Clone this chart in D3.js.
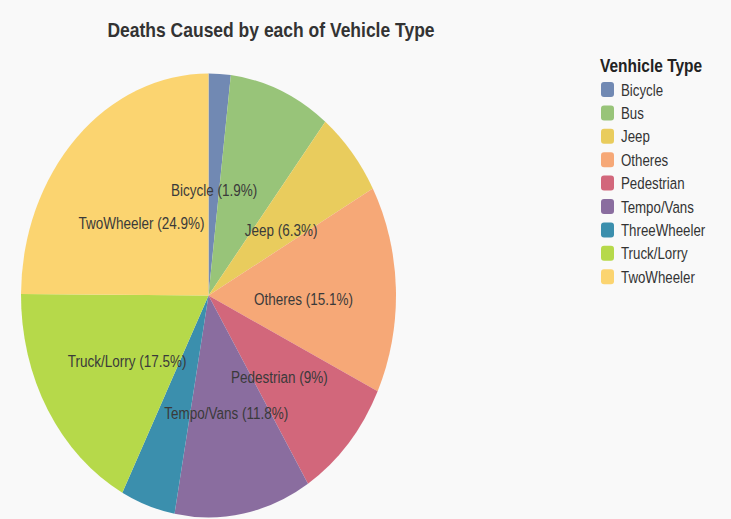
<!DOCTYPE html>
<html>
<head>
<meta charset="utf-8">
<script src="https://cdn.jsdelivr.net/npm/d3@7"></script>
<style>
  body { margin: 0; background: #f9f9f9; }
  text { font-family: "Liberation Sans", Arial, sans-serif; }
</style>
</head>
<body>
<div id="chart"></div>
<script>
// vehicle types, in the order they go round the pie
var categories = ["Bicycle", "Bus", "Jeep", "Otheres", "Pedestrian", "Tempo/Vans", "ThreeWheeler", "Truck/Lorry", "TwoWheeler"];
// share of deaths (%)
var shares = [1.9, 8.8, 6.3, 15.1, 9, 11.8, 4.7, 17.5, 24.9];
// slice colours
var colours = ["#7189b3", "#98c479", "#e9cc5d", "#f6a877", "#d2677b", "#8a6d9f", "#3b8fad", "#b6d94a", "#fbd470"];
// slices that get a text label
var labelled = ["Bicycle", "Jeep", "Otheres", "Pedestrian", "Tempo/Vans", "Truck/Lorry", "TwoWheeler"];

var width = 731;
var height = 519;

// the picture is stretched a bit vertically
var stretch = 1.184;

var svg = d3.select("#chart")
  .append("svg")
  .attr("width", width)
  .attr("height", height);

svg.append("rect")
  .attr("width", width)
  .attr("height", height)
  .style("fill", "#f9f9f9");

var data = categories.map(function(c, i) {
  return { name: c, value: shares[i] };
});

var color = d3.scaleOrdinal()
  .domain(categories)
  .range(colours);

var radius = 187.5;
var cx = 208.5;
var cy = 295.5;

var pie = d3.pie()
  .sort(null)
  .value(function(d) { return d.value; });

var arcs = pie(data);

var arc = d3.arc()
  .innerRadius(0)
  .outerRadius(radius);

var labelArc = d3.arc()
  .innerRadius(95)
  .outerRadius(95);

var pieGroup = svg.append("g")
  .attr("transform", "translate(" + cx + "," + cy + ") scale(1," + stretch + ")");

pieGroup.selectAll("path")
  .data(arcs)
  .enter()
  .append("path")
  .attr("d", arc)
  .style("fill", function(d) { return color(d.data.name); });

// slice labels
svg.selectAll(".slicelabel")
  .data(arcs.filter(function(d) { return labelled.indexOf(d.data.name) >= 0; }))
  .enter()
  .append("text")
  .attr("class", "slicelabel")
  .attr("text-anchor", "middle")
  .attr("transform", function(d) {
    var c = labelArc.centroid(d);
    return "translate(" + (cx + c[0]) + "," + (cy + c[1] * stretch + 13) + ") scale(1," + stretch + ")";
  })
  .style("font-size", "13.5px")
  .style("fill", "#3a3a3a")
  .text(function(d) { return d.data.name + " (" + d.data.value + "%)"; });

// title
svg.append("text")
  .attr("text-anchor", "middle")
  .attr("transform", "translate(271,37) scale(1," + stretch + ")")
  .style("font-size", "17.5px")
  .style("font-weight", "bold")
  .style("fill", "#333")
  .text("Deaths Caused by each of Vehicle Type");

// legend
var legend = svg.append("g")
  .attr("transform", "translate(600,0)");

legend.append("text")
  .attr("transform", "translate(0,72) scale(1," + stretch + ")")
  .style("font-size", "15.5px")
  .style("font-weight", "bold")
  .style("fill", "#222")
  .text("Venhicle Type");

var step = 23.4;

legend.selectAll(".swatch")
  .data(categories)
  .enter()
  .append("rect")
  .attr("class", "swatch")
  .attr("x", 1)
  .attr("y", function(d, i) { return 82 + i * step; })
  .attr("width", 13)
  .attr("height", 15)
  .attr("rx", 3)
  .style("fill", function(d) { return color(d); });

legend.selectAll(".legtext")
  .data(categories)
  .enter()
  .append("text")
  .attr("class", "legtext")
  .attr("transform", function(d, i) {
    return "translate(21," + (95.5 + i * step) + ") scale(1," + stretch + ")";
  })
  .style("font-size", "13.3px")
  .style("fill", "#333")
  .text(function(d) { return d; });
</script>
</body>
</html>
